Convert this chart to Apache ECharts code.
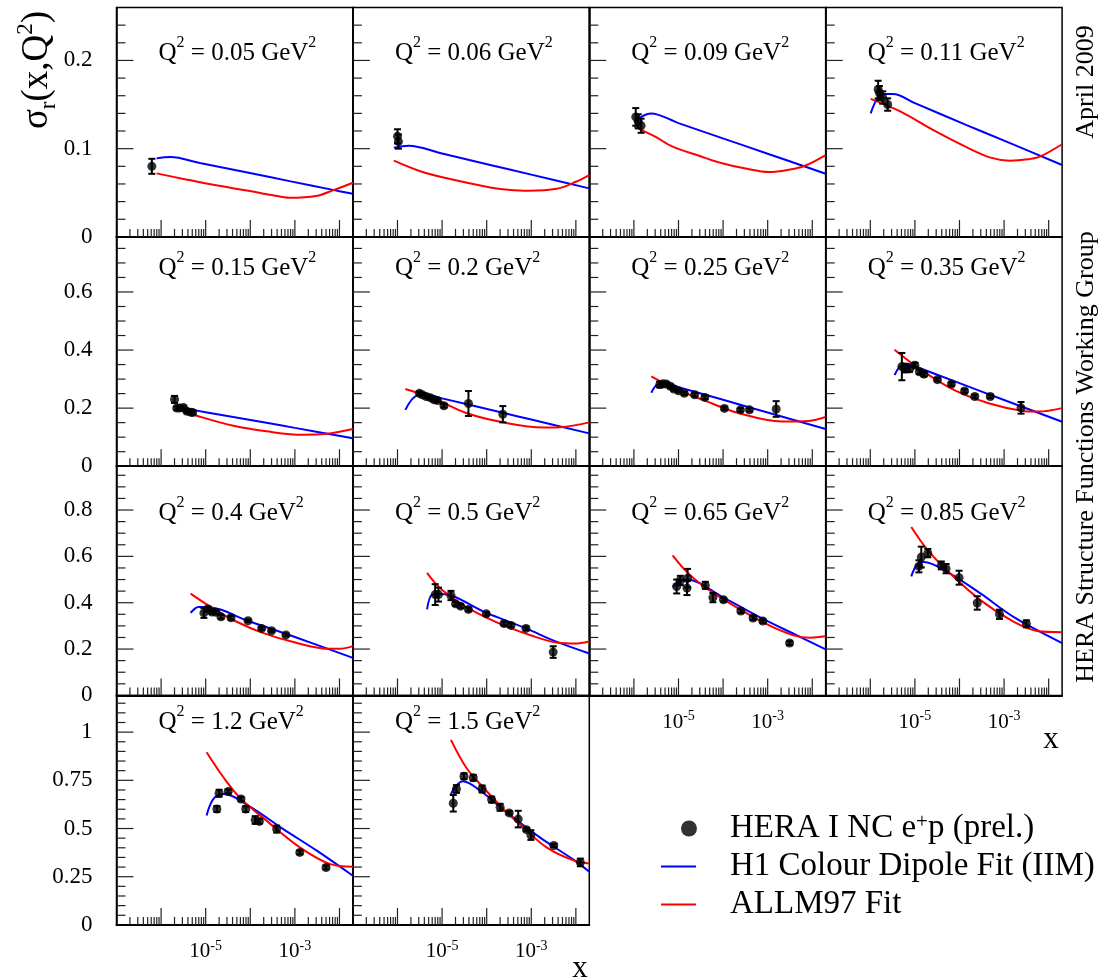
<!DOCTYPE html>
<html><head><meta charset="utf-8">
<script src="https://cdn.jsdelivr.net/npm/echarts@6/dist/echarts.min.js"></script>
<style>html,body{margin:0;padding:0;background:#fff}#c{width:1104px;height:979px}</style>
</head><body><div id="c"></div>
<script>
// ---------------- DATA ----------------
const q2Labels = ['0.05','0.06','0.09','0.11','0.15','0.2','0.25','0.35','0.4','0.5','0.65','0.85','1.2','1.5'];

// HERA I NC e+p (prel.) points: [x, sigma_r, error]
const heraPoints = [
  [[6.2e-7,0.080,0.0085]],
  [[1.0e-6,0.114,0.008],[1.05e-6,0.108,0.008]],
  [[1.1e-6,0.136,0.010],[1.25e-6,0.131,0.008],[1.45e-6,0.126,0.008]],
  [[1.5e-6,0.167,0.010],[1.6e-6,0.163,0.008],[1.9e-6,0.158,0.007],[2.45e-6,0.150,0.007]],
  [[2.0e-6,0.230,0.012],[2.24e-6,0.200,0.006],[2.6e-6,0.200,0.006],[3.16e-6,0.202,0.006],[3.8e-6,0.189,0.006],[4.6e-6,0.186,0.006],[5.1e-6,0.185,0.006]],
  [[3.1e-6,0.251,0.006],[3.6e-6,0.246,0.006],[4.4e-6,0.240,0.006],[5.4e-6,0.236,0.006],[6.6e-6,0.229,0.006],[7.9e-6,0.226,0.006],[1.1e-5,0.208,0.006],[3.9e-5,0.216,0.043],[2.3e-4,0.179,0.028]],
  [[3.8e-6,0.281,0.010],[4.5e-6,0.284,0.006],[5.3e-6,0.283,0.006],[6.6e-6,0.275,0.006],[7.9e-6,0.266,0.006],[1.0e-5,0.260,0.006],[1.35e-5,0.251,0.006],[2.3e-5,0.246,0.006],[3.9e-5,0.237,0.006],[1.07e-4,0.199,0.006],[2.45e-4,0.194,0.006],[3.9e-4,0.194,0.006],[1.55e-3,0.197,0.027]],
  [[5.1e-6,0.343,0.047],[5.9e-6,0.338,0.015],[7.6e-6,0.335,0.010],[1.0e-5,0.348,0.008],[1.26e-5,0.325,0.008],[1.6e-5,0.317,0.008],[3.2e-5,0.298,0.006],[6.6e-5,0.283,0.006],[1.3e-4,0.259,0.006],[2.2e-4,0.240,0.006],[4.9e-4,0.240,0.006],[2.4e-3,0.201,0.020]],
  [[9.1e-6,0.356,0.0215],[1.12e-5,0.373,0.010],[1.39e-5,0.360,0.008],[1.7e-5,0.359,0.008],[2.2e-5,0.339,0.008],[3.7e-5,0.335,0.008],[8.9e-5,0.322,0.006],[1.8e-4,0.289,0.006],[3.0e-4,0.279,0.006],[6.3e-4,0.261,0.006]],
  [[7.0e-6,0.435,0.045],[8.3e-6,0.435,0.030],[1.58e-5,0.431,0.020],[2.0e-5,0.395,0.008],[2.6e-5,0.385,0.008],[3.9e-5,0.371,0.008],[9.8e-5,0.352,0.008],[2.45e-4,0.310,0.008],[3.5e-4,0.302,0.008],[7.6e-4,0.289,0.008],[3.1e-3,0.187,0.025]],
  [[9.1e-6,0.470,0.030],[1.1e-5,0.496,0.020],[1.55e-5,0.463,0.030],[1.6e-5,0.506,0.040],[4.0e-5,0.475,0.015],[5.9e-5,0.422,0.020],[1.02e-4,0.413,0.008],[2.5e-4,0.364,0.008],[4.7e-4,0.334,0.008],[7.8e-4,0.321,0.008],[3.1e-3,0.226,0.008]],
  [[1.23e-5,0.557,0.026],[1.39e-5,0.597,0.045],[1.95e-5,0.614,0.018],[3.9e-5,0.561,0.017],[5.0e-5,0.547,0.020],[9.8e-5,0.508,0.030],[2.5e-4,0.399,0.029],[7.9e-4,0.350,0.020],[3.16e-3,0.309,0.015]],
  [[1.78e-5,0.601,0.015],[2.0e-5,0.683,0.018],[3.2e-5,0.692,0.010],[6.2e-5,0.653,0.010],[7.9e-5,0.601,0.015],[1.29e-4,0.544,0.020],[1.6e-4,0.537,0.012],[3.9e-4,0.497,0.018],[1.29e-3,0.376,0.010],[5.0e-3,0.298,0.010]],
  [[1.78e-5,0.631,0.043],[2.1e-5,0.705,0.020],[3.1e-5,0.771,0.015],[5.0e-5,0.763,0.015],[7.9e-5,0.705,0.018],[1.29e-4,0.650,0.015],[2.0e-4,0.610,0.018],[3.2e-4,0.581,0.008],[5.1e-4,0.549,0.043],[7.8e-4,0.494,0.008],[9.8e-4,0.466,0.025],[3.2e-3,0.412,0.008],[1.26e-2,0.324,0.020]]
];

// H1 Colour Dipole Fit (IIM): [x, sigma_r]
const dipoleFit = [
  [[7.9e-7,0.089],[1.6e-6,0.0905],[7.4e-6,0.0837],[9.8e-5,0.0724],[7.6e-4,0.0632],[7.1e-3,0.0533],[0.02,0.0489]],
  [[8.3e-7,0.101],[1.78e-6,0.1034],[1e-5,0.0945],[1.2e-4,0.0816],[1e-3,0.0706],[0.02,0.055]],
  [[1.02e-6,0.1307],[2.4e-6,0.140],[1e-5,0.129],[9.5e-5,0.112],[1e-3,0.0943],[0.02,0.0716]],
  [[1.02e-6,0.140],[1.86e-6,0.162],[3.2e-6,0.162],[1e-5,0.1516],[1.4e-4,0.127],[1e-3,0.1091],[0.02,0.0815]],
  [[2.6e-6,0.202],[1e-5,0.186],[2.3e-4,0.150],[1e-3,0.132],[0.02,0.0966]],
  [[1.5e-6,0.194],[2.7e-6,0.243],[4.6e-6,0.246],[1e-5,0.2336],[2.3e-4,0.184],[1e-3,0.1605],[0.02,0.113]],
  [[2.45e-6,0.253],[3.6e-6,0.282],[6.0e-6,0.282],[1e-5,0.2724],[1e-4,0.2286],[1e-3,0.1849],[0.02,0.128]],
  [[3.5e-6,0.314],[4.8e-6,0.345],[7.3e-6,0.352],[1e-5,0.344],[1e-4,0.286],[1e-3,0.228],[0.02,0.153]],
  [[4.6e-6,0.356],[6.9e-6,0.382],[9.8e-6,0.382],[1e-4,0.318],[1e-3,0.252],[0.02,0.162]],
  [[4.6e-6,0.371],[6.0e-6,0.435],[9.3e-6,0.438],[9.8e-5,0.356],[7.6e-4,0.289],[3.4e-3,0.234],[0.02,0.181]],
  [[7.4e-6,0.468],[1.1e-5,0.494],[1.55e-5,0.499],[1.02e-4,0.422],[8.1e-4,0.329],[3.8e-3,0.266],[0.02,0.1986]],
  [[8.3e-6,0.514],[1.12e-5,0.565],[1.58e-5,0.576],[5.4e-5,0.532],[3.0e-4,0.439],[1.66e-3,0.338],[0.02,0.226]],
  [[1.05e-5,0.567],[1.48e-5,0.653],[2.5e-5,0.679],[9.8e-5,0.614],[5.5e-4,0.497],[3.1e-3,0.385],[0.02,0.255]],
  [[1.58e-5,0.679],[2.1e-5,0.723],[2.9e-5,0.745],[7.1e-5,0.697],[2.8e-4,0.584],[1.55e-3,0.454],[8.5e-3,0.341],[0.02,0.276]]
];

// ALLM97 Fit: [x, sigma_r]
const allm97Fit = [
  [[7.9e-7,0.072],[3e-6,0.066],[1.5e-5,0.059],[9.8e-5,0.052],[3e-4,0.0475],[7.6e-4,0.0443],[3e-3,0.0463],[7.1e-3,0.0527],[0.02,0.0614]],
  [[8.3e-7,0.0864],[3e-6,0.075],[9.1e-6,0.0682],[1.2e-4,0.0561],[3e-4,0.0535],[8.7e-4,0.0523],[3.7e-3,0.0545],[1e-2,0.0625],[0.02,0.070]],
  [[1.02e-6,0.125],[3e-6,0.1136],[7.4e-6,0.1023],[3e-5,0.0917],[9.5e-5,0.0834],[3e-4,0.0777],[1.1e-3,0.0735],[3e-3,0.0761],[6.6e-3,0.0803],[0.02,0.0928]],
  [[1.02e-6,0.1565],[4.8e-6,0.142],[2.6e-5,0.121],[1.4e-4,0.102],[5e-4,0.0898],[1.35e-3,0.0864],[3.5e-3,0.088],[6.3e-3,0.0909],[0.02,0.105]],
  [[2.24e-6,0.197],[6.3e-6,0.174],[4.2e-5,0.139],[2.3e-4,0.120],[1.5e-3,0.108],[6.0e-3,0.113],[0.02,0.128]],
  [[1.5e-6,0.266],[6.5e-6,0.233],[3.5e-5,0.183],[2.3e-4,0.151],[1.9e-3,0.133],[5.2e-3,0.135],[0.02,0.151]],
  [[2.45e-6,0.309],[8.5e-6,0.266],[4.0e-5,0.225],[2.2e-4,0.183],[2.1e-3,0.154],[8.3e-3,0.156],[0.02,0.170]],
  [[3.5e-6,0.401],[1.45e-5,0.329],[8.1e-5,0.260],[4.5e-4,0.217],[2.5e-3,0.191],[5.9e-3,0.188],[0.02,0.200]],
  [[4.6e-6,0.4395],[1.39e-5,0.378],[4.7e-5,0.320],[1.9e-4,0.270],[1.07e-3,0.227],[6.0e-3,0.201],[1.0e-2,0.201],[0.02,0.2126]],
  [[4.6e-6,0.5285],[9.3e-6,0.460],[3.2e-5,0.385],[1.78e-4,0.313],[1.0e-3,0.2585],[4.0e-3,0.227],[9.5e-3,0.224],[0.02,0.233]],
  [[7.4e-6,0.604],[1.55e-5,0.532],[4.4e-5,0.460],[1.45e-4,0.396],[8.1e-4,0.314],[3.8e-3,0.259],[8.9e-3,0.249],[0.02,0.255]],
  [[8.3e-6,0.727],[1.9e-5,0.629],[5.4e-5,0.537],[3.0e-4,0.410],[1.66e-3,0.317],[5.5e-3,0.278],[0.02,0.273]],
  [[1.05e-5,0.896],[2.5e-5,0.766],[5.9e-5,0.659],[2.3e-4,0.541],[1.29e-3,0.402],[6.2e-3,0.315],[0.02,0.302]],
  [[1.58e-5,0.960],[3.5e-5,0.815],[8.3e-5,0.714],[2.8e-4,0.584],[6.6e-4,0.506],[2.2e-3,0.402],[8.5e-3,0.336],[0.02,0.319]]
];

// axis ranges / ticks per row
const xMin = 1e-7, xMax = 0.02;
const xLabelValues = [1e-5, 1e-3];
const rowYMax = [0.26, 0.79, 0.99, 1.19];
const rowYMajor = [0.1, 0.2, 0.2, 0.25];
const rowYMinor = [0.02, 0.05, 0.05, 0.05];

const seriesNames = ['HERA I NC e+p (prel.)', 'H1 Colour Dipole Fit (IIM)', 'ALLM97 Fit'];

// ---------------- LAYOUT ----------------
const FONT = '"Liberation Serif","Times New Roman",serif';
const colLeft = [116.5, 352.9, 589.3, 825.7];
const rowTop = [7.5, 236.8, 466, 695.5];
const PW = 236.4, PH = 229.4;
const panelCell = [[0,0],[0,1],[0,2],[0,3],[1,0],[1,1],[1,2],[1,3],[2,0],[2,1],[2,2],[2,3],[3,0],[3,1]];
const titleY = [53, 268, 513, 722];
const xLabelled = [10, 11, 12, 13];

const grids = [], xAxes = [], yAxes = [], series = [], graphics = [];

function tickData(r) {
  const out = [];
  for (let e = -7; e <= -2; e++) {
    for (let m = 1; m <= 9; m++) {
      const v = m * Math.pow(10, e);
      if (v > xMin * 1.001 && v < xMax * 0.999) out.push([v, 0, 0, m === 1 ? 1 : 0]);
    }
  }
  const n = Math.round(rowYMax[r] / rowYMinor[r]);
  for (let k = 1; k <= n; k++) {
    const v = +(k * rowYMinor[r]).toFixed(6);
    if (v >= rowYMax[r] - 1e-6) continue;
    const q = v / rowYMajor[r];
    out.push([xMin, v, 1, Math.abs(q - Math.round(q)) < 1e-6 ? 1 : 0]);
  }
  return out;
}

panelCell.forEach(([r, c], i) => {
  grids.push({left: colLeft[c], top: rowTop[r], width: PW, height: PH, show: true,
    borderColor: '#000', borderWidth: 1.5, backgroundColor: 'transparent'});
  const lab = xLabelled.includes(i);
  xAxes.push({type: 'log', logBase: 10, gridIndex: i, min: xMin, max: xMax,
    axisLine: {show: true, onZero: false, lineStyle: {color: '#000', width: 2}},
    axisTick: {show: false}, minorTick: {show: false}, splitLine: {show: false},
    axisLabel: {show: lab, margin: 14, showMinLabel: true, showMaxLabel: false,
      formatter: v => {
        for (const t of xLabelValues) {
          if (Math.abs(Math.log10(v) - Math.log10(t)) < 0.01) return '{b|10}{s|' + Math.round(Math.log10(t)) + '}';
        }
        return '';
      },
      rich: {b: {fontFamily: FONT, fontSize: 21, color: '#000', lineHeight: 26},
             s: {fontFamily: FONT, fontSize: 14, color: '#000', verticalAlign: 'top', lineHeight: 14}}}
  });
  yAxes.push({type: 'value', gridIndex: i, min: 0, max: rowYMax[r], interval: rowYMajor[r],
    axisLine: {show: true, onZero: false, lineStyle: {color: '#000', width: 1.5}},
    axisTick: {show: false}, minorTick: {show: false}, splitLine: {show: false},
    axisLabel: {show: c === 0, showMaxLabel: false, showMinLabel: true, margin: 24,
      fontFamily: FONT, fontSize: 23, color: '#000'}
  });
  // axis ticks (log-decade minor ticks) drawn through the axes' scales
  series.push({type: 'custom', xAxisIndex: i, yAxisIndex: i, silent: true, z: 1,
    encode: {x: 0, y: 1}, data: tickData(r), clip: false,
    renderItem: (params, api) => {
      const p = api.coord([api.value(0), api.value(1)]);
      const major = api.value(3) === 1;
      if (api.value(2) === 0) {
        const len = major ? 17 : 8;
        return {type: 'line', shape: {x1: p[0], y1: p[1], x2: p[0], y2: p[1] - len},
          style: {stroke: '#222', lineWidth: 1.2}};
      }
      const len = major ? 17 : 9;
      return {type: 'line', shape: {x1: p[0], y1: p[1], x2: p[0] + len, y2: p[1]},
        style: {stroke: '#222', lineWidth: 1.2}};
    }});
  series.push({type: 'line', name: seriesNames[1], xAxisIndex: i, yAxisIndex: i,
    data: dipoleFit[i], smooth: 0.35, symbol: 'none', showSymbol: false, color: '#0000ff',
    lineStyle: {color: '#0000ff', width: 2}, z: 3, silent: true});
  series.push({type: 'line', name: seriesNames[2], xAxisIndex: i, yAxisIndex: i,
    data: allm97Fit[i], smooth: 0.35, symbol: 'none', showSymbol: false, color: '#ff0000',
    lineStyle: {color: '#ff0000', width: 2}, z: 3, silent: true});
  series.push({type: 'custom', xAxisIndex: i, yAxisIndex: i, silent: true, z: 4,
    encode: {x: 0, y: 1}, data: heraPoints[i],
    renderItem: (params, api) => {
      const x = api.value(0), y = api.value(1), e = api.value(2);
      const t = api.coord([x, y + e]), b = api.coord([x, y - e]);
      const w = 3.5, st = {stroke: '#000', lineWidth: 2};
      return {type: 'group', children: [
        {type: 'line', shape: {x1: t[0], y1: t[1], x2: b[0], y2: b[1]}, style: st},
        {type: 'line', shape: {x1: t[0] - w, y1: t[1], x2: t[0] + w, y2: t[1]}, style: st},
        {type: 'line', shape: {x1: b[0] - w, y1: b[1], x2: b[0] + w, y2: b[1]}, style: st}]};
    }});
  series.push({type: 'scatter', name: seriesNames[0], xAxisIndex: i, yAxisIndex: i,
    data: heraPoints[i].map(p => [p[0], p[1]]), symbol: 'circle', symbolSize: 9,
    color: '#000', itemStyle: {color: '#000'}, z: 5, silent: true});
  graphics.push({type: 'text', x: colLeft[c] + 42, y: titleY[r], silent: true,
    style: {text: '{a|Q}{s|2}{a| = ' + q2Labels[i] + ' GeV}{s|2}', align: 'left', verticalAlign: 'middle',
      rich: {a: {fontFamily: FONT, fontSize: 25, fill: '#000', lineHeight: 36},
             s: {fontFamily: FONT, fontSize: 16, fill: '#000', verticalAlign: 'top', lineHeight: 16}}}});
});

// axis titles and side notes
graphics.push({type: 'text', x: 37, y: 70, rotation: Math.PI / 2, silent: true,
  style: {text: '{a|σ}{r|r}{a|(x,Q}{s|2}{a|)}', align: 'center', verticalAlign: 'middle',
    rich: {a: {fontFamily: FONT, fontSize: 37, fill: '#000', lineHeight: 46},
           r: {fontFamily: FONT, fontSize: 23, fill: '#000', verticalAlign: 'bottom', lineHeight: 23},
           s: {fontFamily: FONT, fontSize: 23, fill: '#000', verticalAlign: 'top', lineHeight: 23}}}});
graphics.push({type: 'text', x: 1086, y: 82, rotation: Math.PI / 2, silent: true,
  style: {text: 'April 2009', font: '26px ' + FONT, fill: '#000', align: 'center', verticalAlign: 'middle'}});
graphics.push({type: 'text', x: 1086, y: 457, rotation: Math.PI / 2, silent: true,
  style: {text: 'HERA Structure Functions Working Group', font: '26px ' + FONT, fill: '#000', align: 'center', verticalAlign: 'middle'}});
graphics.push({type: 'text', x: 580, y: 969, silent: true,
  style: {text: 'x', font: '31px ' + FONT, fill: '#000', align: 'center', verticalAlign: 'middle'}});
graphics.push({type: 'text', x: 1051, y: 740, silent: true,
  style: {text: 'x', font: '31px ' + FONT, fill: '#000', align: 'center', verticalAlign: 'middle'}});

const legRich = {g1: {width: 20}, g2: {width: 29},
  a: {fontFamily: FONT, fontSize: 33, color: '#000', lineHeight: 33},
  s: {fontFamily: FONT, fontSize: 21, color: '#000', verticalAlign: 'top', lineHeight: 21}};

const option = {
  animation: false,
  backgroundColor: '#fff',
  grid: grids, xAxis: xAxes, yAxis: yAxes, series: series, graphic: graphics,
  legend: [
    {data: [{name: seriesNames[0], icon: 'circle'}], left: 681, top: 812, itemWidth: 32, itemHeight: 16,
      selectedMode: false, padding: 0,
      formatter: () => '{g1|}{a|HERA I NC e}{s|+}{a|p (prel.)}', textStyle: {rich: legRich}},
    {data: [{name: seriesNames[1], icon: 'rect'}, {name: seriesNames[2], icon: 'rect'}], orient: 'vertical',
      left: 661, top: 850, itemWidth: 35, itemHeight: 2, itemGap: 5, selectedMode: false, padding: 0,
      formatter: n => '{g2|}{a|' + n + '}', textStyle: {rich: legRich}}
  ]
};
const chart = echarts.init(document.getElementById('c'));
chart.setOption(option);
</script></body></html>
